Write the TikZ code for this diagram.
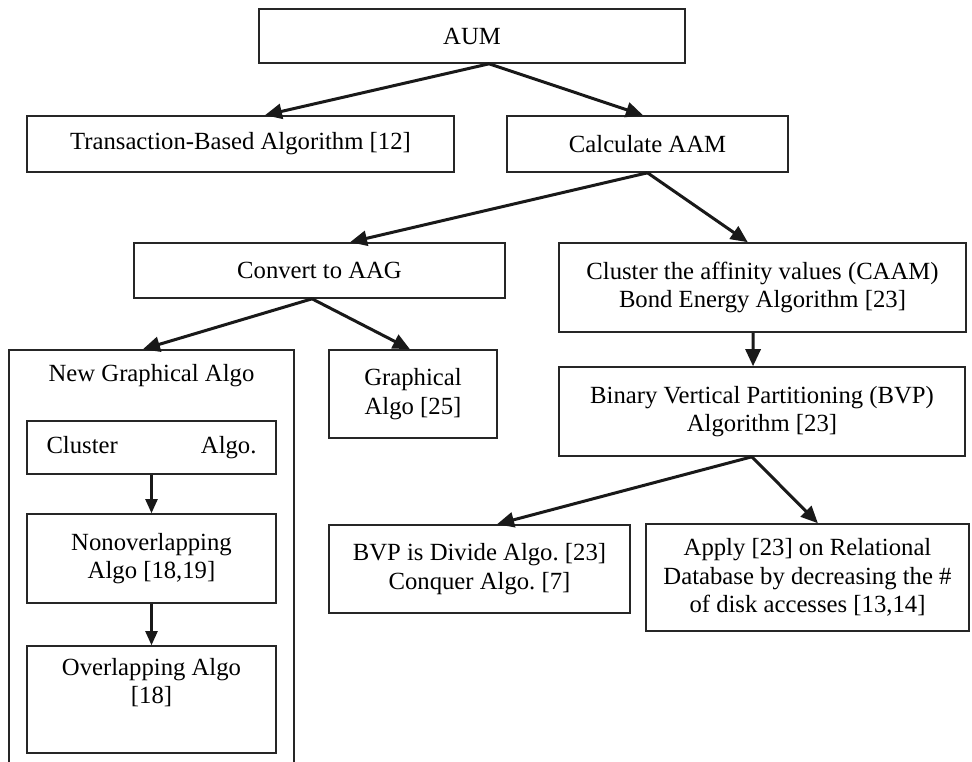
\documentclass[tikz,border=0pt]{standalone}
\usepackage{fontspec}
\setmainfont{Liberation Serif}
\usetikzlibrary{arrows.meta,calc}
\newcommand\nodefont{\fontsize{24.7}{28.5}\selectfont\frenchspacing}
\begin{document}
\begin{tikzpicture}[x=1pt,y=-1pt,
  box/.style={draw=black!85, line width=1.6pt, inner sep=0pt, align=center, font=\nodefont},
  arr/.style={draw=black!90, line width=3pt, -{Triangle[length=17pt,width=15pt]}},
  subarr/.style={draw=black!90, line width=2.2pt, -{Triangle[length=14pt,width=12pt]}}]
\useasboundingbox[fill=white] (0,0) rectangle (972,761);

% top levels
\node[box, minimum width=426, minimum height=54] (aum)   at (472,36)    {AUM};
\node[box, minimum width=427, minimum height=56] (trans) at (240.5,144) {Transaction-Based Algorithm [12]};
\node[box, minimum width=281, minimum height=56] (calc)  at (647.5,144) {Calculate AAM};
\node[box, minimum width=371, minimum height=55] (conv)  at (319.5,270.5) {Convert to AAG};
\node[box, minimum width=407, minimum height=89] (caam)  at (762.5,287.5)
  {Cluster the affinity values (CAAM)\\Bond Energy Algorithm [23]};

% graphical branch
\node[box, minimum width=285, minimum height=440] (nga) at (151.5,570) {};
\node[font=\nodefont, inner sep=0pt] (ngatitle) at (151.5,376) {New Graphical Algo};
\node[box, minimum width=168, minimum height=88] (graph) at (413,394) {Graphical\\Algo [25]};
\node[box, minimum width=249, minimum height=53] (clus)  at (151.5,447.5)
  {\makebox[210pt]{Cluster\hfill Algo.}};
\node[box, minimum width=249, minimum height=89] (nonov) at (151.5,558.5)
  {Nonoverlapping\\Algo [18,19]};
\node[box, minimum width=249, minimum height=107] (over) at (151.5,699.5)
  {Overlapping Algo\\{[18]}\\ \strut};

% partitioning branch
\node[box, minimum width=406, minimum height=89] (bvp) at (762,411.5)
  {Binary Vertical Partitioning (BVP)\\Algorithm [23]};
\node[box, minimum width=301, minimum height=88] (divide) at (479.5,569)
  {BVP is Divide Algo. [23]\\Conquer Algo. [7]};
\node[box, minimum width=323, minimum height=107] (apply) at (807.5,577.5)
  {Apply [23] on Relational\\Database by decreasing the \#\\of disk accesses [13,14]};

% connectors
\draw[arr] ($(aum.south west)!0.54!(aum.south east)$) -- ($(trans.north west)!0.557!(trans.north east)$);
\draw[arr] ($(aum.south west)!0.54!(aum.south east)$) -- ($(calc.north west)!0.484!(calc.north east)$);
\draw[arr] (calc.south) -- ($(conv.north west)!0.582!(conv.north east)$);
\draw[arr] (calc.south) -- ($(caam.north west)!0.464!(caam.north east)$);
\draw[arr] ($(conv.south west)!0.48!(conv.south east)$) -- ($(nga.north west)!0.47!(nga.north east)$);
\draw[arr] ($(conv.south west)!0.48!(conv.south east)$) -- ($(graph.north west)!0.482!(graph.north east)$);
\draw[arr] ($(caam.south west)!0.477!(caam.south east)$) -- ($(bvp.north west)!0.478!(bvp.north east)$);
\draw[arr] ($(bvp.south west)!0.475!(bvp.south east)$) -- ($(divide.north west)!0.558!(divide.north east)$);
\draw[arr] ($(bvp.south west)!0.475!(bvp.south east)$) -- ($(apply.north west)!0.532!(apply.north east)$);
\draw[subarr] (clus.south) -- (nonov.north);
\draw[subarr] (nonov.south) -- (over.north);
\end{tikzpicture}
\end{document}
